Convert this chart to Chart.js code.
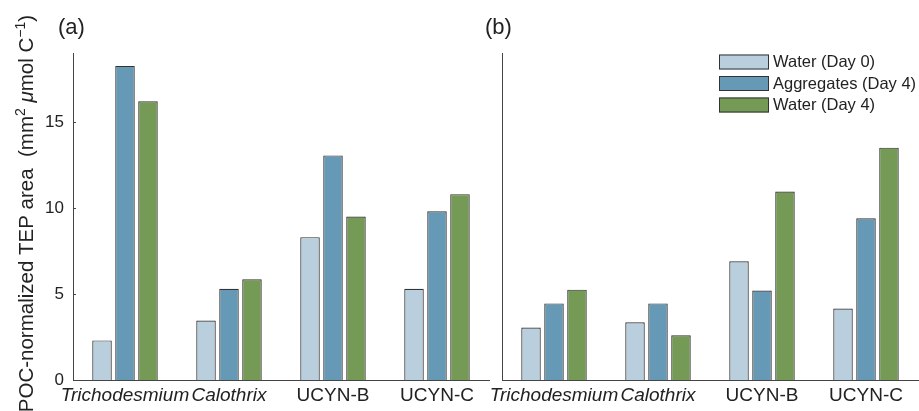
<!DOCTYPE html>
<html>
<head>
<meta charset="utf-8">
<script src="https://cdn.jsdelivr.net/npm/chart.js@4.4.1/dist/chart.umd.min.js"></script>
<style>
  html, body { margin: 0; padding: 0; background: #fff; }
  #wrap { position: relative; width: 919px; height: 411px; overflow: hidden; }
  .pane { position: absolute; top: 0; height: 411px; }
  #pa { left: 0; width: 492px; }
  #pb { left: 478px; width: 441px; }
</style>
</head>
<body>
<div id="wrap">
  <div class="pane" id="pa"><canvas id="chartA"></canvas></div>
  <div class="pane" id="pb"><canvas id="chartB"></canvas></div>
</div>
<script>
// categories and series
var categories = ['Trichodesmium', 'Calothrix', 'UCYN-B', 'UCYN-C'];
var italicCats = ['Trichodesmium', 'Calothrix'];
var seriesNames = ['Water (Day 0)', 'Aggregates (Day 4)', 'Water (Day 4)'];
var seriesColors = ['#b9cfdd', '#6699b6', '#749a55'];

// panel (a)
var aWater0 = [2.3, 3.45, 8.3, 5.3];
var aAgg4 = [18.25, 5.3, 13.05, 9.8];
var aWater4 = [16.2, 5.85, 9.5, 10.8];

// panel (b)
var bWater0 = [3.05, 3.35, 6.9, 4.15];
var bAgg4 = [4.45, 4.45, 5.2, 9.4];
var bWater4 = [5.25, 2.6, 10.95, 13.5];

var yMax = 19;
var yTicks = [0, 5, 10, 15];

var FONT = 'Liberation Sans, Arial, sans-serif';
var INK = '#222';
Chart.defaults.font.family = FONT;
Chart.defaults.color = INK;

function makeSets(vals) {
    return vals.map(function (v, i) {
        return {
            label: seriesNames[i],
            data: v,
            backgroundColor: seriesColors[i],
            borderColor: '#333',
            borderWidth: 1.2,
            borderSkipped: 'start',
            categoryPercentage: 0.663,
            barPercentage: 0.85
        };
    });
}

function xScale() {
    return {
        grid: { display: false, drawTicks: false },
        border: { display: true, color: '#444', width: 1 },
        ticks: {
            autoSkip: false, maxRotation: 0, minRotation: 0, padding: 4, color: INK,
            font: function (c) {
                var lab = categories[c.index];
                return { family: FONT, size: 19, style: italicCats.indexOf(lab) >= 0 ? 'italic' : 'normal' };
            }
        },
        afterFit: function (s) { s.height = 31; }
    };
}

function fixTicks(s) {
    s.ticks = yTicks.map(function (v) { return { value: v }; });
}

// panel letter, y title, inward y ticks, legend
var decor = {
    id: 'decor',
    afterDraw: function (chart, args, opts) {
        var ctx = chart.ctx;
        ctx.save();
        ctx.fillStyle = INK;
        ctx.font = '22px ' + FONT;
        ctx.textBaseline = 'alphabetic';
        ctx.fillText(opts.letter, opts.letterX, 34);

        if (opts.yTitle) {
            // inward ticks
            var ys = chart.scales.y;
            ctx.strokeStyle = '#444';
            ctx.lineWidth = 1;
            ys.ticks.forEach(function (t) {
                var py = Math.round(ys.getPixelForValue(t.value)) + 0.5;
                ctx.beginPath();
                ctx.moveTo(chart.chartArea.left, py);
                ctx.lineTo(chart.chartArea.left + 3, py);
                ctx.stroke();
            });
            // rotated rich title
            var big = '20.5px ' + FONT, small = '14px ' + FONT;
            var parts = [
                { t: 'POC-normalized TEP area  (mm', f: big, r: 0 },
                { t: '2', f: small, r: -8 },
                { t: ' ', f: big, r: 0 },
                { t: '\u03bc', f: 'italic ' + big, r: 0 },
                { t: 'mol C', f: big, r: 0 },
                { t: '\u22121', f: small, r: -8 },
                { t: ')', f: big, r: 0 }
            ];
            var w = 0;
            parts.forEach(function (p) { ctx.font = p.f; p.w = ctx.measureText(p.t).width; w += p.w; });
            ctx.translate(33, 15);
            ctx.rotate(-Math.PI / 2);
            var u = -w;
            parts.forEach(function (p) { ctx.font = p.f; ctx.fillText(p.t, u, p.r); u += p.w; });
        }
        ctx.restore();

        if (opts.legend) {
            ctx.save();
            var lx = opts.legend.x;
            chart.data.datasets.forEach(function (ds, i) {
                var by = opts.legend.y + i * 21.5;
                ctx.fillStyle = ds.backgroundColor;
                ctx.fillRect(lx, by, 50, 15);
                ctx.strokeStyle = '#333';
                ctx.lineWidth = 1;
                ctx.strokeRect(lx + 0.5, by + 0.5, 49, 14);
                ctx.fillStyle = INK;
                ctx.font = '16.5px ' + FONT;
                ctx.textBaseline = 'middle';
                ctx.fillText(ds.label, lx + 54, by + 8);
            });
            ctx.restore();
        }
    }
};

var chartA = new Chart(document.getElementById('chartA'), {
    type: 'bar',
    data: { labels: categories, datasets: makeSets([aWater0, aAgg4, aWater4]) },
    options: {
        responsive: true, maintainAspectRatio: false, animation: false,
        layout: { padding: { left: 0, right: 3, top: 53, bottom: 0 } },
        plugins: {
            legend: { display: false }, tooltip: { enabled: false },
            decor: { letter: '(a)', letterX: 58, yTitle: true }
        },
        scales: {
            x: xScale(),
            y: {
                min: 0, max: yMax,
                grid: { display: false, drawTicks: false },
                border: { display: true, color: '#444', width: 1 },
                ticks: { padding: 9, color: INK, font: { size: 17 } },
                afterBuildTicks: fixTicks,
                afterFit: function (s) { s.width = 73; }
            }
        }
    },
    plugins: [decor]
});

var chartB = new Chart(document.getElementById('chartB'), {
    type: 'bar',
    data: { labels: categories, datasets: makeSets([bWater0, bAgg4, bWater4]) },
    options: {
        responsive: true, maintainAspectRatio: false, animation: false,
        layout: { padding: { left: 0, right: 1, top: 53, bottom: 0 } },
        plugins: {
            legend: { display: false }, tooltip: { enabled: false },
            decor: { letter: '(b)', letterX: 7, legend: { x: 241, y: 54.5 } }
        },
        scales: {
            x: xScale(),
            y: {
                min: 0, max: yMax,
                grid: { display: false, drawTicks: false },
                border: { display: true, color: '#444', width: 1 },
                ticks: { display: false },
                afterBuildTicks: fixTicks,
                afterFit: function (s) { s.width = 24; }
            }
        }
    },
    plugins: [decor]
});
</script>
</body>
</html>
